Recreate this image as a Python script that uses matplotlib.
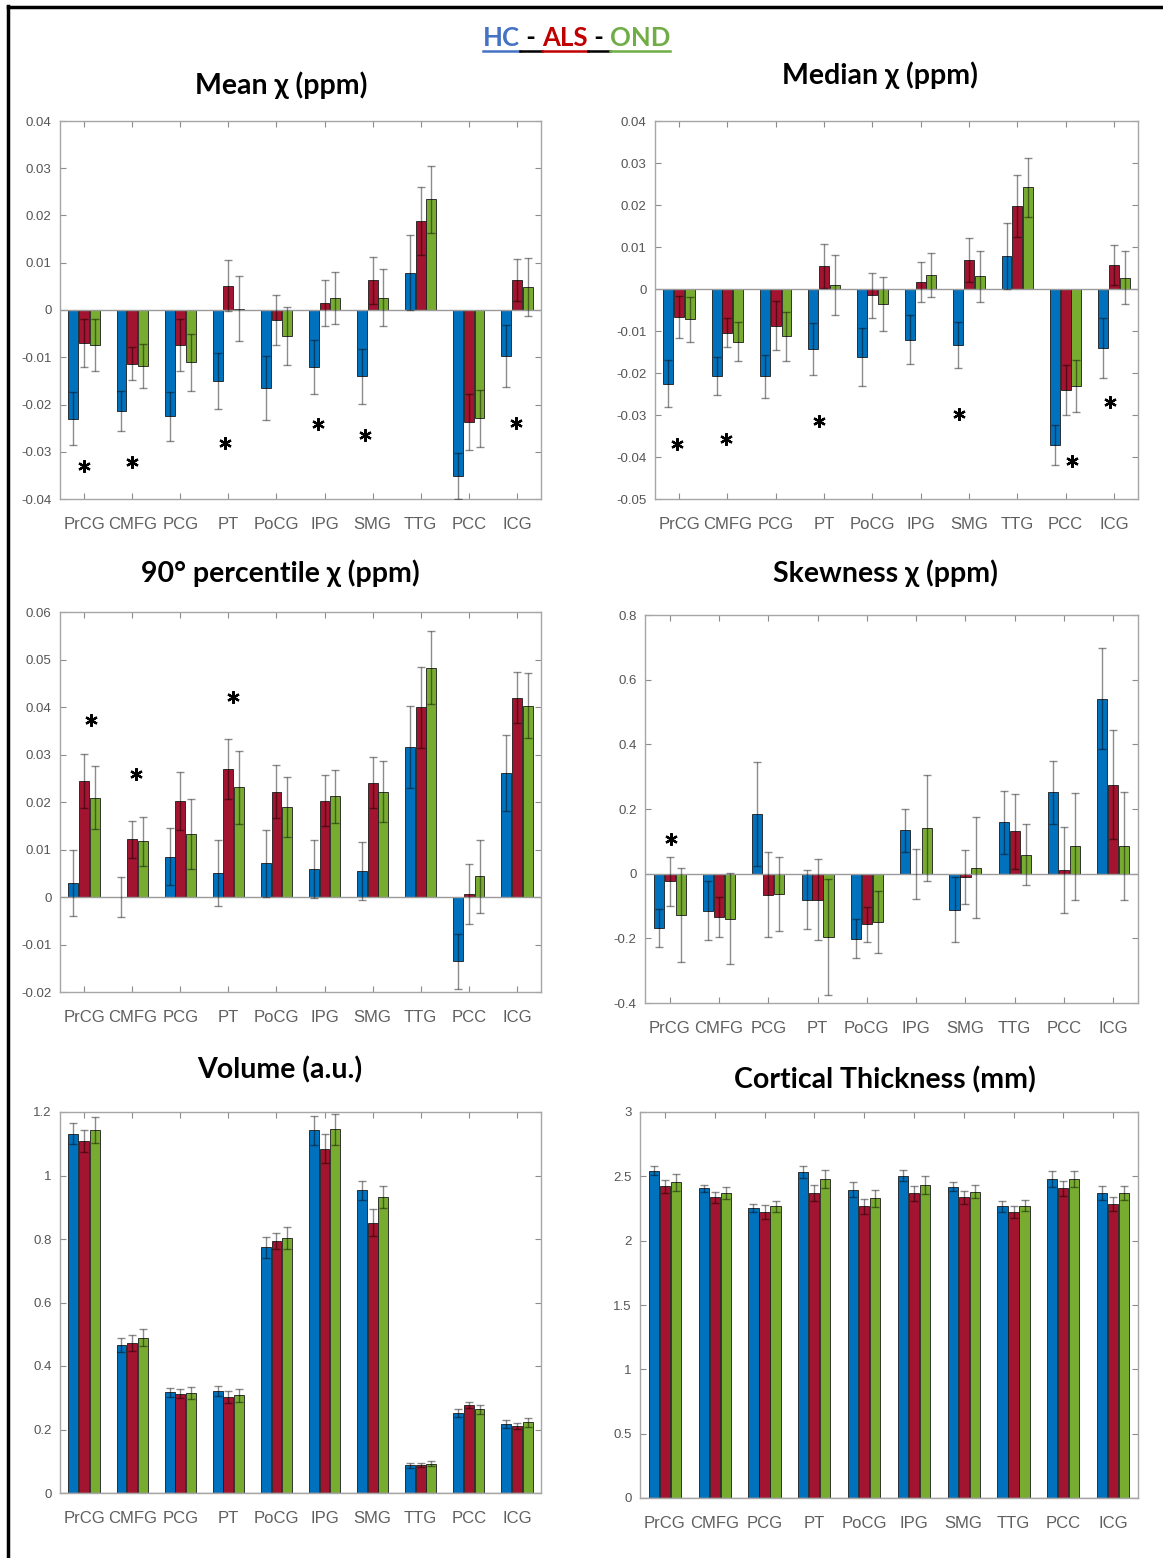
import numpy as np
import matplotlib.pyplot as plt
from matplotlib.lines import Line2D

regions = ['PrCG', 'CMFG', 'PCG', 'PT', 'PoCG', 'IPG', 'SMG', 'TTG', 'PCC', 'ICG']
groups = ['HC', 'ALS', 'OND']
colors = ['#0072BD', '#A2142F', '#77AC30']

# rows: HC, ALS, OND
mean_chi = [[-0.0230, -0.0214, -0.0225, -0.0150, -0.0165, -0.0121, -0.0140, 0.0079, -0.0351, -0.0098],
            [-0.0070, -0.0114, -0.0074, 0.0051, -0.0021, 0.0015, 0.0063, 0.0188, -0.0237, 0.0063],
            [-0.0075, -0.0119, -0.0111, 0.0003, -0.0055, 0.0026, 0.0026, 0.0234, -0.0229, 0.0048]]
mean_chi_err = [[0.0056, 0.0043, 0.0052, 0.0060, 0.0067, 0.0057, 0.0058, 0.0079, 0.0048, 0.0066],
                [0.0051, 0.0035, 0.0056, 0.0054, 0.0053, 0.0048, 0.0050, 0.0072, 0.0059, 0.0045],
                [0.0055, 0.0046, 0.0060, 0.0069, 0.0061, 0.0055, 0.0060, 0.0071, 0.0060, 0.0061]]
mean_star_x = [1.0, 2.0, 3.93, 5.87, 6.85, 9.97]
mean_star_y = [-0.0330, -0.0321, -0.0281, -0.0241, -0.0265, -0.0239]

median_chi = [[-0.0226, -0.0208, -0.0208, -0.0143, -0.0162, -0.0121, -0.0133, 0.0079, -0.0372, -0.0141],
              [-0.0066, -0.0104, -0.0087, 0.0055, -0.0015, 0.0017, 0.0069, 0.0198, -0.0240, 0.0057],
              [-0.0072, -0.0125, -0.0113, 0.0010, -0.0036, 0.0033, 0.0030, 0.0242, -0.0232, 0.0027]]
median_chi_err = [[0.0056, 0.0045, 0.0051, 0.0062, 0.0068, 0.0058, 0.0055, 0.0079, 0.0048, 0.0071],
                  [0.0050, 0.0035, 0.0058, 0.0052, 0.0054, 0.0047, 0.0052, 0.0073, 0.0060, 0.0047],
                  [0.0053, 0.0047, 0.0058, 0.0071, 0.0064, 0.0053, 0.0060, 0.0071, 0.0062, 0.0063]]
median_star_x = [0.96, 1.98, 3.9, 6.8, 9.13, 9.93]
median_star_y = [-0.0369, -0.0357, -0.0315, -0.0297, -0.0409, -0.0268]

p90_chi = [[0.0030, 0.0000, 0.0085, 0.0051, 0.0071, 0.0059, 0.0055, 0.0316, -0.0135, 0.0261],
           [0.0245, 0.0122, 0.0202, 0.0269, 0.0222, 0.0203, 0.0241, 0.0399, 0.0006, 0.0420],
           [0.0209, 0.0117, 0.0133, 0.0231, 0.0189, 0.0212, 0.0222, 0.0483, 0.0044, 0.0403]]
p90_chi_err = [[0.0069, 0.0043, 0.0060, 0.0069, 0.0071, 0.0062, 0.0061, 0.0086, 0.0058, 0.0080],
               [0.0057, 0.0039, 0.0061, 0.0063, 0.0056, 0.0053, 0.0054, 0.0085, 0.0063, 0.0054],
               [0.0066, 0.0051, 0.0074, 0.0077, 0.0063, 0.0056, 0.0064, 0.0077, 0.0077, 0.0068]]
p90_star_x = [1.15, 2.07, 4.09]
p90_star_y = [0.0372, 0.0258, 0.0422]

skew_chi = [[-0.168, -0.114, 0.185, -0.080, -0.201, 0.134, -0.111, 0.159, 0.252, 0.541],
            [-0.024, -0.135, -0.065, -0.080, -0.156, 0.000, -0.010, 0.131, 0.010, 0.275],
            [-0.127, -0.139, -0.062, -0.196, -0.150, 0.141, 0.019, 0.059, 0.085, 0.085]]
skew_chi_err = [[0.060, 0.092, 0.161, 0.090, 0.060, 0.066, 0.100, 0.098, 0.098, 0.156],
                [0.075, 0.062, 0.132, 0.125, 0.054, 0.077, 0.083, 0.116, 0.133, 0.169],
                [0.146, 0.140, 0.115, 0.178, 0.096, 0.165, 0.155, 0.095, 0.165, 0.167]]
skew_star_x = [1.02]
skew_star_y = [0.108]

volume = [[1.132, 0.467, 0.317, 0.320, 0.774, 1.142, 0.953, 0.087, 0.252, 0.217],
          [1.109, 0.473, 0.313, 0.302, 0.793, 1.085, 0.851, 0.087, 0.278, 0.212],
          [1.143, 0.489, 0.315, 0.308, 0.803, 1.145, 0.933, 0.092, 0.263, 0.223]]
volume_err = [[0.032, 0.022, 0.014, 0.016, 0.033, 0.045, 0.030, 0.007, 0.013, 0.012],
              [0.034, 0.026, 0.013, 0.018, 0.026, 0.047, 0.042, 0.006, 0.010, 0.010],
              [0.042, 0.026, 0.020, 0.021, 0.036, 0.050, 0.035, 0.008, 0.015, 0.014]]

thickness = [[2.545, 2.407, 2.253, 2.532, 2.397, 2.506, 2.420, 2.266, 2.480, 2.370],
             [2.423, 2.337, 2.225, 2.370, 2.266, 2.368, 2.337, 2.220, 2.407, 2.285],
             [2.454, 2.368, 2.266, 2.480, 2.329, 2.433, 2.381, 2.272, 2.480, 2.370]]
thickness_err = [[0.033, 0.025, 0.030, 0.047, 0.057, 0.044, 0.034, 0.044, 0.060, 0.053],
                 [0.050, 0.045, 0.055, 0.063, 0.057, 0.060, 0.052, 0.046, 0.060, 0.052],
                 [0.065, 0.047, 0.044, 0.070, 0.068, 0.073, 0.052, 0.044, 0.060, 0.053]]

W, H = 1163, 1558
fig = plt.figure(figsize=(W / 100, H / 100), dpi=100)
title_font = ['Lato', 'DejaVu Sans']
tick_font = ['Liberation Sans', 'DejaVu Sans']


def fmt(v):
    s = ('%.3f' % v).rstrip('0').rstrip('.')
    return '0' if s in ('-0', '0') else s


def panel(box, title, title_xy, vals, errs, ylim, step, star_x=None, star_y=None):
    left, right, top, bottom = box
    ax = fig.add_axes([left / W, 1 - bottom / H, (right - left) / W, (bottom - top) / H])
    x = np.arange(1, 11)
    for i in range(3):
        xi = x + (i - 1) * 0.222
        ax.bar(xi, vals[i], width=0.205, color=colors[i], edgecolor='#1a1a1a',
               linewidth=0.6, zorder=2)
        ax.errorbar(xi, vals[i], yerr=errs[i], fmt='none', ecolor='black', alpha=0.45,
                    elinewidth=1.0, capsize=3, capthick=1.0, zorder=3)
    ax.axhline(0, color='#9a9a9a', lw=1.0, zorder=2.5)
    if star_x is not None:
        ax.plot(star_x, star_y, linestyle='none', marker=(6, 2, 0), markersize=9,
                markeredgewidth=1.6, color='black', zorder=4)
    ax.set_xlim(0.5, 10.5)
    ax.set_ylim(*ylim)
    yt = np.arange(ylim[0], ylim[1] + step / 2, step)
    ax.set_yticks(yt)
    ax.set_yticklabels([fmt(v) for v in yt], family=tick_font, fontsize=9.5, color='#555555')
    ax.set_xticks(x)
    ax.set_xticklabels(regions, family=tick_font, fontsize=12, color='#5f5f5f')
    ax.tick_params(direction='in', top=True, right=True, length=4, color='#8c8c8c', pad=6)
    ax.tick_params(axis='x', pad=13)
    for s in ax.spines.values():
        s.set_color('#a6a6a6')
        s.set_linewidth(1.0)
    fig.text(title_xy[0] / W, 1 - title_xy[1] / H, title, ha='center', va='center',
             fontsize=20.5, fontweight='bold', family=title_font)
    return ax


panel((60, 541, 121, 499), 'Mean χ (ppm)', (281, 85), mean_chi, mean_chi_err,
      (-0.04, 0.04), 0.01, mean_star_x, mean_star_y)
panel((655, 1138, 121, 499), 'Median χ (ppm)', (880, 75), median_chi, median_chi_err,
      (-0.05, 0.04), 0.01, median_star_x, median_star_y)
panel((60, 541, 612, 992), '90° percentile χ (ppm)', (280, 573), p90_chi, p90_chi_err,
      (-0.02, 0.06), 0.01, p90_star_x, p90_star_y)
panel((645, 1138, 615, 1003), 'Skewness χ (ppm)', (885, 573), skew_chi, skew_chi_err,
      (-0.4, 0.8), 0.2, skew_star_x, skew_star_y)
panel((60, 541, 1112, 1493), 'Volume (a.u.)', (280, 1070), volume, volume_err,
      (0, 1.2), 0.2)
panel((640, 1138, 1112, 1498), 'Cortical Thickness (mm)', (885, 1080), thickness, thickness_err,
      (0, 3.0), 0.5)

# frame lines (left and top)
fig.add_artist(Line2D([7.5 / W, 7.5 / W], [0, 1 - 6 / H], color='black', lw=2.5))
fig.add_artist(Line2D([7.5 / W, 1], [1 - 7 / H, 1 - 7 / H], color='black', lw=2.5))

# header "HC - ALS - OND" with underline
pieces = [('HC', '#4472C4'), (' - ', 'black'), ('ALS', '#C00000'), (' - ', 'black'), ('OND', '#70AD47')]
renderer = fig.canvas.get_renderer()
xpos = 483 / W
ytxt = 1 - 38 / H
yline = 1 - 51 / H
for txt, c in pieces:
    t = fig.text(xpos, ytxt, txt, ha='left', va='center', fontsize=18.5, fontweight='bold',
                 family=title_font, color=c)
    bb = t.get_window_extent(renderer)
    x0 = bb.x0 / W
    x1 = bb.x1 / W
    fig.add_artist(Line2D([x0, x1], [yline, yline], color=c, lw=1.8))
    xpos = x1

fig.savefig('out.png', dpi=100)
